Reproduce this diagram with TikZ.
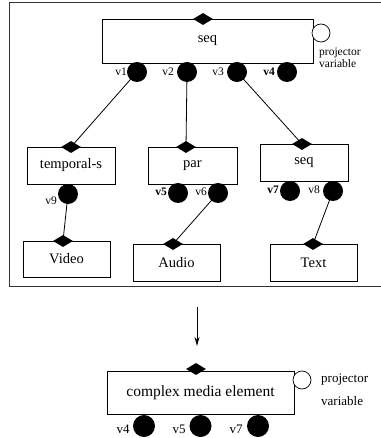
\documentclass[tikz,border=0pt]{standalone}
\usepackage{fontspec}
\setmainfont{Liberation Serif}
\usetikzlibrary{shapes.geometric,arrows.meta}
\begin{document}
\begin{tikzpicture}[x=1pt,y=-1pt,
  box/.style={draw,line width=0.8pt,inner sep=0pt,font=\fontsize{14.5}{16}\selectfont},
  port/.style={circle,fill=black,minimum size=20pt,inner sep=0pt},
  proj/.style={circle,draw,line width=0.7pt,fill=white,minimum size=18pt,inner sep=0pt},
  dia/.style={diamond,fill=black,minimum width=20pt,minimum height=12pt,inner sep=0pt},
  lab/.style={font=\fontsize{11.5}{12}\selectfont,inner sep=0pt},
  labb/.style={font=\fontsize{13}{14}\selectfont,inner sep=0pt},
  conn/.style={line width=0.8pt}]
\useasboundingbox (0,0) rectangle (380,438);
% frame
\coordinate (fa) at (381,2.5);
\coordinate (fb) at (9.5,286);
\draw[line width=1pt,black!80] (fa) -| (fb) -- (381,286);
% top seq
\node[box,minimum width=211pt,minimum height=44pt] (seq) at (207.5,41) {seq};
\node[proj] (pseq) at (321,33) {};
\node[lab,anchor=west] at (319,53) {projector};
\node[lab,anchor=west] at (319,64) {variable};
% children boxes
\node[box,minimum width=88pt,minimum height=37pt] (tem) at (71,165.5) {temporal-s};
\node[box,minimum width=89pt,minimum height=37pt] (par) at (192.5,165.5) {par};
\node[box,minimum width=88pt,minimum height=37pt] (seqb) at (304,162.5) {seq};
% leaves
\node[box,minimum width=87pt,minimum height=36pt] (vid) at (66.5,259) {Video};
\node[box,minimum width=87pt,minimum height=37pt] (aud) at (176.5,262.5) {Audio};
\node[box,minimum width=87pt,minimum height=37pt] (txt) at (313.5,262.5) {Text};
% port positions (drawn after the connectors)
\coordinate (v1) at (137,72);
\coordinate (v2) at (187,72);
\coordinate (v3) at (237,72);
\coordinate (v4) at (287,72);
\coordinate (v9) at (68,194);
\coordinate (v5) at (178,193);
\coordinate (v6) at (218,193);
\coordinate (v7) at (290,191);
\coordinate (v8) at (333,191);
\coordinate (dseq) at (203,19);
\coordinate (dtem) at (71,147);
\coordinate (dpar) at (186,147);
\coordinate (dseqb) at (302,144);
\coordinate (dvid) at (63,241);
\coordinate (daud) at (173,244);
\coordinate (dtxt) at (313,244);
% connectors
\draw[conn] (v1) -- (dtem);
\draw[conn] (v2) -- (dpar);
\draw[conn] (v3) -- (dseqb);
\draw[conn] (v9) -- (dvid);
\draw[conn] (v6) -- (daud);
\draw[conn] (v8) -- (dtxt);
% ports and diamonds
\foreach \p in {v1,v2,v3,v4,v9,v5,v6,v7,v8}
  \node[port] at (\p) {};
\foreach \d in {dseq,dtem,dpar,dseqb,dvid,daud,dtxt}
  \node[dia] at (\d) {};
\node[lab] at (121,72) {v1};
\node[lab] at (168,72) {v2};
\node[lab] at (218,72) {v3};
\node[lab] at (269,72) {\bfseries v4};
\node[lab] at (51,201) {v9};
\node[lab] at (161,192) {\bfseries v5};
\node[lab] at (201,192) {v6};
\node[lab] at (273,190) {\bfseries v7};
\node[lab] at (314,190) {v8};
% arrow
\coordinate (as) at (197,307);
\coordinate (ae) at (197,346);
\draw[line width=0.8pt,-{Stealth[length=9pt,width=5pt]}] (as) -- (ae);
% complex media element
\node[box,minimum width=187pt,minimum height=43pt,font=\fontsize{15.5}{17}\selectfont] (cme) at (200.5,392.5) {complex media element};
\node[dia] (dcme) at (196,369) {};
\node[proj] (pcme) at (302,380) {};
\node[labb,anchor=west] at (321,380) {projector};
\node[labb,anchor=west] at (321,401) {variable};
\node[port,minimum size=22pt] (w4) at (144,426) {};
\node[port,minimum size=22pt] (w5) at (200.5,426) {};
\node[port,minimum size=22pt] (w7) at (258,426) {};
\node[labb] at (123,429) {v4};
\node[labb] at (179,429) {v5};
\node[labb] at (236,429) {v7};
\end{tikzpicture}
\end{document}
